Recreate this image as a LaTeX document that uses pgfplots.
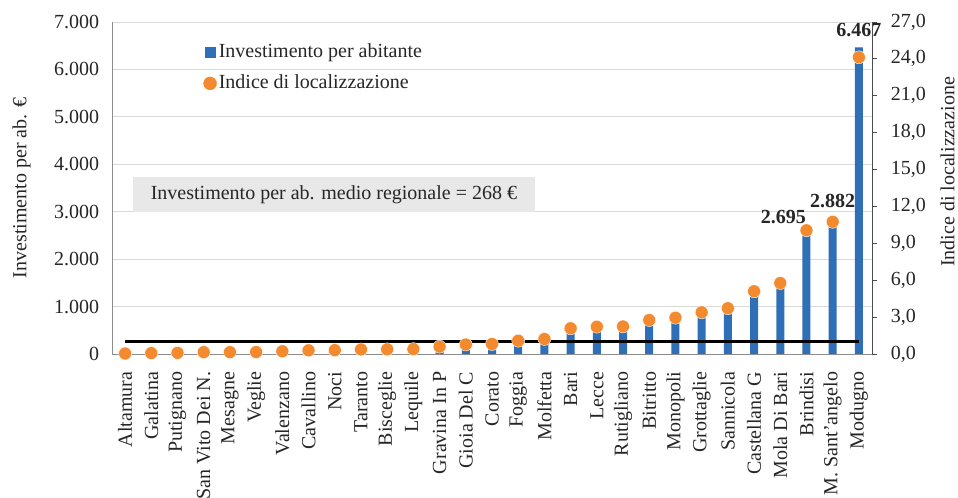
\documentclass[border=0pt]{standalone}
\usepackage{pgfplots}
\pgfplotsset{compat=1.18}
\usepackage{fontspec}
\setmainfont{Liberation Serif}
\definecolor{barblue}{HTML}{2E6FB7}
\definecolor{dotor}{HTML}{F48A2E}
\definecolor{gridg}{HTML}{D9D9D9}
\definecolor{txt}{HTML}{262626}

% comune, investimento per abitante (euro), indice di localizzazione
\pgfplotstableread{
i inv idx
0 10 0.04
1 20 0.07
2 25 0.09
3 40 0.15
4 40 0.15
5 42 0.16
6 58 0.22
7 80 0.30
8 82 0.31
9 100 0.37
10 102 0.38
11 108 0.40
12 160 0.60
13 205 0.77
14 217 0.81
15 290 1.08
16 327 1.22
17 560 2.09
18 595 2.22
19 600 2.24
20 740 2.76
21 791 2.95
22 909 3.39
23 996 3.72
24 1367 5.10
25 1547 5.77
26 2695 10.06
27 2882 10.75
28 6467 24.13
}\datatab

\begin{document}
\fontsize{20bp}{24bp}\selectfont
\color{txt}
\begin{tikzpicture}
\useasboundingbox (0,0) rectangle (958bp,498bp);
\pgfplotsset{
  every axis/.append style={
    scale only axis, width=760bp, height=332bp,
    at={(112bp,144bp)}, anchor=south west,
    xmin=-0.5, xmax=28.5, ymin=0,
    /pgf/number format/assume math mode=true,
    tick label style={text=txt},
  },
}
\begin{axis}[
  ymax=7000, clip=false,
  axis x line*=bottom, axis y line*=left,
  axis line style={draw=black!45, line width=0.8bp},
  ytick={0,1000,...,7000},
  ymajorgrids, grid style={gridg, line width=0.8bp},
  major tick length=0pt,
  yticklabel style={/tikz/xshift=-6bp, /pgf/number format/.cd, fixed, 1000 sep={.}},
  xtick={0,...,28},
  xticklabels={Altamura,Galatina,Putignano,{San Vito Dei N.},Mesagne,Veglie,Valenzano,Cavallino,Noci,Taranto,Bisceglie,Lequile,{Gravina In P},{Gioia Del C},Corato,Foggia,Molfetta,Bari,Lecce,Rutigliano,Bitritto,Monopoli,Grottaglie,Sannicola,{Castellana G},{Mola Di Bari},Brindisi,{M. Sant'angelo},Modugno},
  xticklabel style={rotate=90, anchor=east, xshift=-11bp},
  ylabel={Investimento per ab. €},
  ylabel style={yshift=10bp},
]
\addplot[ybar, bar width=8bp, bar shift=0pt, fill=barblue, draw=none] table[x=i, y=inv] {\datatab};
\addplot[black, line width=2.5bp] coordinates {(0,268) (28,268)};
\node[fill=black!9, minimum width=402bp, minimum height=35bp, inner sep=0pt]
  at (rel axis cs:0.292,0.48) {Investimento per ab. medio regionale = 268 €};
\node[font=\bfseries, anchor=south, yshift=4bp] at (axis cs:28,6467) {6.467};
\node[font=\bfseries, anchor=south, yshift=3bp] at (axis cs:27,2882) {2.882};
\node[font=\bfseries, anchor=south, yshift=-4bp, xshift=-23bp] at (axis cs:26,2695) {2.695};
\end{axis}
\begin{axis}[
  ymax=27,
  axis x line=none, axis y line*=right,
  axis line style={draw=black!70, line width=0.8bp},
  ytick={0,3,...,27},
  tick align=outside, major tick length=5bp,
  tick style={draw=black!70, line width=0.8bp},
  yticklabel style={/tikz/xshift=7bp, /pgf/number format/.cd, fixed, fixed zerofill, precision=1, use comma},
  ylabel={Indice di localizzazione},
  ylabel style={yshift=-1bp, xshift=16bp},
  legend style={at={(rel axis cs:0.12,0.94)}, anchor=north west, draw=none, fill=none,
    row sep=10bp, cells={anchor=west}, text=txt, inner sep=0pt},
]
\addlegendimage{legend image code/.code={\fill[barblue] (2bp,-5bp) rectangle (12bp,5bp);}}
\addlegendentry{Investimento per abitante}
\addplot[only marks, mark=*, mark size=6.5bp, mark options={fill=dotor, draw=white, line width=0.4bp},
  legend image code/.code={\fill[dotor] (7bp,0) circle (6.5bp);}]
  table[x=i, y=idx] {\datatab};
\addlegendentry{Indice di localizzazione}
\end{axis}
\end{tikzpicture}
\end{document}
